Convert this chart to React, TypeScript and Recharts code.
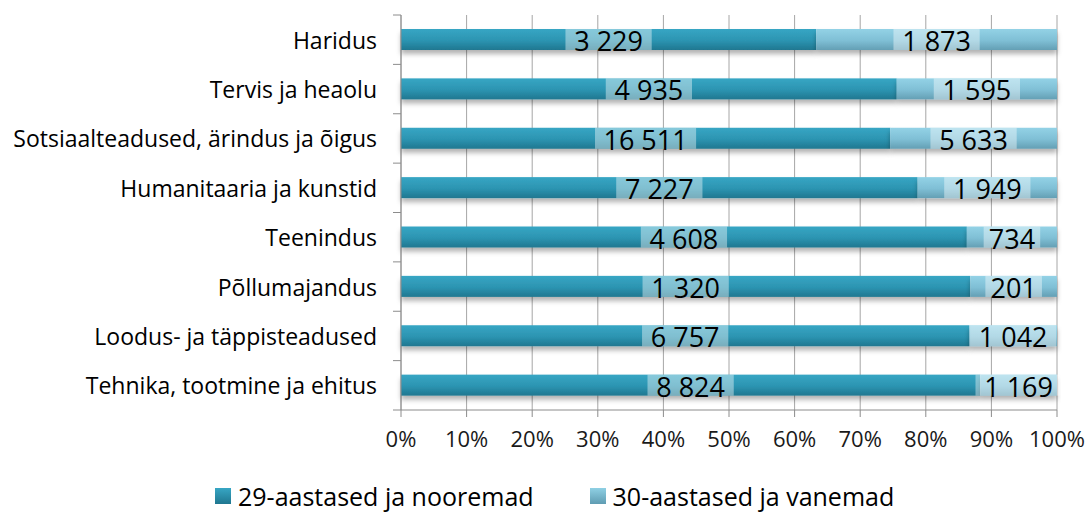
import { Bar, BarChart, CartesianGrid, LabelList, Legend, XAxis, YAxis } from "recharts";

const categories = [
  "Haridus",
  "Tervis ja heaolu",
  "Sotsiaalteadused, ärindus ja õigus",
  "Humanitaaria ja kunstid",
  "Teenindus",
  "Põllumajandus",
  "Loodus- ja täppisteadused",
  "Tehnika, tootmine ja ehitus",
];
const youngValues = [3229, 4935, 16511, 7227, 4608, 1320, 6757, 8824];
const olderValues = [1873, 1595, 5633, 1949, 734, 201, 1042, 1169];
const seriesNames = ["29-aastased ja nooremad", "30-aastased ja vanemad"];
const percentTicks = [0, 0.1, 0.2, 0.3, 0.4, 0.5, 0.6, 0.7, 0.8, 0.9, 1];

const data = categories.map((name, i) => ({
  name,
  young: youngValues[i],
  older: olderValues[i],
}));

const FONT = "'Open Sans', sans-serif";
const TOP = 15;
const BOTTOM = 410;
const halfBand = (BOTTOM - TOP) / categories.length / 2;

const fmt = (v: number) => String(v).replace(/\B(?=(\d{3})+(?!\d))/g, " ");

function ValueLabel(props: any) {
  const { x, y, width, height, value } = props;
  const text = fmt(Number(value));
  const fs = 27;
  const w = text.length * fs * 0.55 + 12;
  const cx = x + width / 2;
  const cy = y + height / 2;
  return (
    <g>
      <rect x={cx - w / 2} y={y} width={w} height={height} fill="#ffffff" fillOpacity={0.4} />
      <text
        x={cx}
        y={cy + 1}
        textAnchor="middle"
        dominantBaseline="central"
        fontFamily={FONT}
        fontSize={fs}
        fill="#000"
      >
        {text}
      </text>
    </g>
  );
}

function CategoryTick(props: any) {
  const { x, y, payload, index } = props;
  const axisX = x + 24;
  return (
    <g>
      <text
        x={x}
        y={y}
        textAnchor="end"
        dominantBaseline="central"
        fontFamily={FONT}
        fontSize={23}
        fill="#000"
      >
        {payload.value}
      </text>
      {index === 0 && (
        <line x1={axisX - 8} x2={axisX} y1={y - halfBand} y2={y - halfBand} stroke="#8c8c8c" />
      )}
      <line x1={axisX - 8} x2={axisX} y1={y + halfBand} y2={y + halfBand} stroke="#8c8c8c" />
    </g>
  );
}

function LegendContent() {
  const swatches = ["url(#gYoungL)", "url(#gOldL)"];
  return (
    <div
      style={{
        display: "flex",
        justifyContent: "flex-start",
        gap: 56,
        fontFamily: FONT,
        fontSize: 25,
        lineHeight: "28px",
        color: "#000",
        paddingLeft: 215,
        paddingTop: 2,
      }}
    >
      {seriesNames.map((n, i) => (
        <div key={n} style={{ display: "flex", alignItems: "center" }}>
          <svg width={16} height={16} style={{ marginRight: 7 }}>
            <rect width={16} height={16} fill={swatches[i]} />
          </svg>
          <span>{n}</span>
        </div>
      ))}
    </div>
  );
}

function BarShape(props: any) {
  const { x, y, width, height, fill } = props;
  return <rect x={x} y={y} width={width} height={height} fill={fill} filter="url(#barShadow)" />;
}

export default function App() {
  return (
    <div style={{ position: "absolute", left: 0, top: 0, width: 1089, height: 514, background: "#fff" }}>
      <svg width={0} height={0} style={{ position: "absolute" }}>
        <defs>
          <linearGradient id="gYoungL" x1="0" y1="0" x2="0" y2="1">
            <stop offset="0%" stopColor="#37a6c4" />
            <stop offset="100%" stopColor="#1f7790" />
          </linearGradient>
          <linearGradient id="gOldL" x1="0" y1="0" x2="0" y2="1">
            <stop offset="0%" stopColor="#8fd0e4" />
            <stop offset="100%" stopColor="#5f9cb2" />
          </linearGradient>
        </defs>
      </svg>
      <BarChart
        width={1089}
        height={514}
        data={data}
        layout="vertical"
        stackOffset="expand"
        margin={{ top: TOP, right: 32, bottom: 0, left: 0 }}
      >
        <defs>
          <linearGradient id="gYoung" x1="0" y1="0" x2="0" y2="1">
            <stop offset="0%" stopColor="#37a6c4" />
            <stop offset="55%" stopColor="#2c94b1" />
            <stop offset="100%" stopColor="#1f7790" />
          </linearGradient>
          <linearGradient id="gOld" x1="0" y1="0" x2="0" y2="1">
            <stop offset="0%" stopColor="#93d2e6" />
            <stop offset="55%" stopColor="#7fbfd5" />
            <stop offset="100%" stopColor="#649fb4" />
          </linearGradient>
          <filter id="barShadow" x="-5%" y="-30%" width="110%" height="190%">
            <feDropShadow dx="0" dy="4" stdDeviation="2.5" floodColor="#000" floodOpacity="0.3" />
          </filter>
        </defs>
        <CartesianGrid horizontal={false} stroke="#a6a6a6" />
        <XAxis
          type="number"
          domain={[0, 1]}
          ticks={percentTicks}
          tickFormatter={(v: number) => `${Math.round(v * 100)}%`}
          height={70}
          tickSize={7}
          tickMargin={14}
          axisLine={{ stroke: "#8c8c8c" }}
          tickLine={{ stroke: "#8c8c8c" }}
          tick={{ fontFamily: FONT, fontSize: 22, fill: "#1a1a1a" }}
          interval={0}
        />
        <YAxis
          type="category"
          dataKey="name"
          width={401}
          tickSize={0}
          tickMargin={24}
          axisLine={{ stroke: "#8c8c8c" }}
          tickLine={false}
          tick={<CategoryTick />}
          interval={0}
        />
        <Legend
          verticalAlign="bottom"
          content={<LegendContent />}
          wrapperStyle={{ height: 34, bottom: 0, left: 0, width: 1089 }}
        />
        <Bar
          dataKey="young"
          name={seriesNames[0]}
          stackId="a"
          fill="url(#gYoung)"
          barSize={21}
          shape={<BarShape />}
          isAnimationActive={false}
        >
          <LabelList dataKey="young" content={<ValueLabel />} />
        </Bar>
        <Bar
          dataKey="older"
          name={seriesNames[1]}
          stackId="a"
          fill="url(#gOld)"
          barSize={21}
          shape={<BarShape />}
          isAnimationActive={false}
        >
          <LabelList dataKey="older" content={<ValueLabel />} />
        </Bar>
      </BarChart>
    </div>
  );
}
